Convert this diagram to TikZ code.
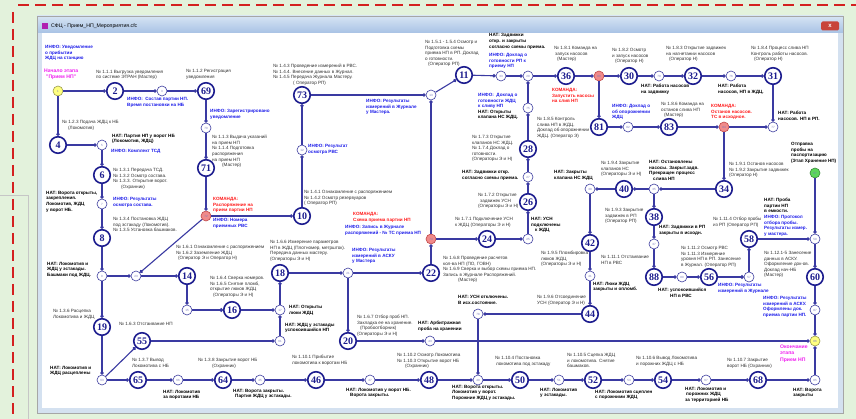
\documentclass[tikz,border=0pt]{standalone}
\usepackage{fontspec}
\setmainfont{Liberation Sans}
\newfontfamily\numfont{Liberation Serif}
\usetikzlibrary{arrows.meta}
\definecolor{nodeblue}{HTML}{1C1C8E}
\definecolor{edgeblue}{HTML}{3A3AA2}
\definecolor{infoblue}{HTML}{1E1EEA}
\definecolor{cmdred}{HTML}{FF1A1A}
\definecolor{stagemag}{HTML}{F020F0}
\definecolor{txtgray}{HTML}{303030}
\definecolor{redfill}{HTML}{F08A8A}
\definecolor{reddraw}{HTML}{C04848}
\definecolor{yelfill}{HTML}{FFFF80}
\definecolor{yeldraw}{HTML}{9A9A50}
\definecolor{grnfill}{HTML}{5CD65C}
\definecolor{grndraw}{HTML}{3A8A3A}
\definecolor{bggreen}{HTML}{E3F2DC}
\definecolor{dashred}{HTML}{D42020}
\definecolor{winframe}{HTML}{D4E1F0}
\definecolor{titletop}{HTML}{D6E4F4}
\definecolor{titlebot}{HTML}{A8C2E4}
\definecolor{closered}{HTML}{C8443A}
\definecolor{iconmag}{HTML}{B020B0}
\tikzset{
  big/.style={circle, draw=nodeblue, line width=1.6pt, fill=white, minimum size=16.5pt, inner sep=0pt, text=nodeblue, font=\numfont\bfseries\fontsize{10}{10}\selectfont},
  sm/.style={circle, draw=nodeblue!85, line width=0.6pt, fill=white, minimum size=10pt, inner sep=0pt, text=nodeblue!60, font=\fontsize{3}{3}\selectfont},
  smred/.style={sm, fill=redfill, draw=reddraw},
  smyel/.style={sm, fill=yelfill, draw=yeldraw},
  smgrn/.style={sm, fill=grnfill, draw=grndraw},
  conn/.style={draw=edgeblue, line width=1.1pt, -{Circle[length=3.4pt]}},
  thickconn/.style={conn, line width=2pt},
  lbl/.style={anchor=north west, inner sep=0pt, align=left, font=\fontsize{4.6}{5.6}\selectfont, text=txtgray},
  nat/.style={lbl, font=\bfseries\fontsize{4.6}{5.6}\selectfont, text=black},
  info/.style={lbl, font=\bfseries\fontsize{4.6}{5.6}\selectfont, text=infoblue},
  cmd/.style={lbl, font=\bfseries\fontsize{4.6}{5.6}\selectfont, text=cmdred},
  stage/.style={lbl, font=\bfseries\fontsize{5.1}{6.2}\selectfont, text=stagemag},
}
\begin{document}
\begin{tikzpicture}[x=1pt,y=-1pt]
\useasboundingbox (0,0) rectangle (856,419);
% background
\fill[bggreen] (0,0) rectangle (856,419);
\draw[gray!45, line width=0.8pt] (0,195) -- (28,195) -- (28,419);
\draw[dashred, line width=2.6pt, dash pattern=on 11pt off 6pt] (18,5) -- (856,5);
\draw[dashred, line width=2.6pt, dash pattern=on 11pt off 6pt] (13,12) -- (13,416);
% window
\fill[winframe] (37,16) rectangle (843,413);
\shade[top color=titletop, bottom color=titlebot] (37,16) rectangle (843,33);
\fill[white] (42,33) rectangle (838,408);
\draw[gray!70, line width=0.6pt] (37,16) rectangle (843,413);
\node[fill=closered, rounded corners=1.5pt, minimum width=18pt, minimum height=9pt, inner sep=0pt, text=white, font=\bfseries\fontsize{6}{6}\selectfont] (closebtn) at (830,26) {x};
\node[fill=iconmag, minimum size=6pt, inner sep=0pt] (icon) at (45,26) {};
\node[anchor=west, inner sep=0pt, font=\fontsize{5.2}{6}\selectfont] (title) at (51,26.5) {СФЦ - Прием\_НП\_Мероприятия.cfc};

% ---------- texts ----------
\node[info] (I1) at (45,45) {ИНФО: Уведомление\\о прибытии\\ЖДЦ на станцию};
\node[stage, align=center] (S1) at (44,69) {Начало этапа\\"Прием НП"};
\node[lbl] (L1) at (96,70) {№ 1.1.1 Выгрузка уведомления\\по системе ЭТРАН (Мастер)};
\node[lbl] (L2) at (186,69) {№ 1.1.2 Регистрация\\уведомления};
\node[info] (I2) at (127,97) {ИНФО:\ \ Состав партии НП.\\Время постановки на НБ};
\node[info] (I3) at (210,109) {ИНФО: Зарегистрировано\\уведомление};
\node[lbl] (L3) at (62,120) {№ 1.2.3 Подача ЖДЦ к НБ\\\hspace{6pt}(Локомотив)};
\node[nat] (N1) at (112,134) {НАТ: Партия НП у ворот НБ\\(Локомотив, ЖДЦ)};
\node[lbl] (L4) at (212,135) {№ 1.1.3 Выдача указаний\\на прием НП\\№ 1.1.4 Подготовка\\распоряжения\\на прием НП\\\hspace{10pt}(Мастер)};
\node[info] (I4) at (111,149) {ИНФО: Комплект ТСД};
\node[lbl] (L5) at (113,168) {№ 1.3.1 Передача ТСД.\\№ 1.3.2 Осмотр состава.\\№ 1.3.3. Открытие ворот.\\\hspace{8pt}(Охранник)};
\node[nat] (N2) at (46,191) {НАТ: Ворота открыты,\\закрепления.\\Локомотив, ЖДЦ\\у ворот НБ.};
\node[info] (I5) at (113,197) {ИНФО: Результаты\\осмотра состава.};
\node[lbl] (L6) at (113,217) {№ 1.3.4 Постановка ЖДЦ\\под эстакаду (Локомотив).\\№ 1.3.5 Установка башмаков.};
\node[cmd] (C1) at (213,197) {КОМАНДА:\\Распоряжение на\\прием партии НП};
\node[info] (I6) at (213,218) {ИНФО: Номера\\приемных РВС};
\node[lbl] (L7) at (176,245) {№ 1.6.1 Ознакомление с распоряжением\\№ 1.6.2 Заземление ЖДЦ\\\hspace{2pt}(Оператор Э и Оператор Н)};
\node[nat] (N3) at (47,262) {НАТ: Локомотив и\\ЖДЦ у эстакады.\\Башмаки под ЖДЦ.};
\node[lbl] (L8) at (273,64) {№ 1.4.3 Проведение измерений в РВС.\\№ 1.4.4. Внесение данных в Журнал.\\№ 1.4.5 Передача Журнала Мастеру.\\\hspace{20pt}( Оператор РП)};
\node[info] (I7) at (366,99) {ИНФО: Результаты\\измерений в Журнале\\у Мастера.};
\node[lbl] (L9) at (425,40) {№ 1.5.1 - 1.5.4 Осмотр и\\Подготовка схемы\\приема НП в РП. Доклад\\о готовности.\\\hspace{3pt}(Оператор РП)};
\node[info] (I8) at (308,144) {ИНФО: Результат\\осмотра РВС};
\node[lbl] (L10) at (304,190) {№ 1.4.1 Ознакомление с распоряжением\\№ 1.4.2 Осмотр резервуаров\\( Оператор РП)};
\node[cmd] (C2) at (353,212) {КОМАНДА:\\Схема приема партии НП};
\node[info] (I9) at (345,225) {ИНФО: Запись в Журнале\\распоряжений - № ТС приема НП};
\node[info] (I10) at (352,248) {ИНФО: Результаты\\измерений в АСКУ\\у Мастера};
\node[lbl] (L11) at (270,240) {№ 1.6.6 Измерение параметров\\НП в ЖДЦ (Плотномер, метршток).\\Передача данных мастеру.\\(Операторы Э и Н)};
\node[nat] (N4) at (489,33.5) {НАТ: Задвижки\\откр. и закрыты\\согласно схемы приема.};
\node[info] (I11) at (489,53) {ИНФО: Доклад о\\готовности РП к\\приему НП};
\node[lbl] (L12) at (554,46) {№ 1.8.1 Команда на\\\hspace{1pt}запуск насосов\\\hspace{3pt}(Мастер)};
\node[lbl] (L13) at (612,48) {№ 1.8.2 Осмотр\\и запуск насосов\\\hspace{3pt}(Оператор Н)};
\node[cmd] (C3) at (552,88) {КОМАНДА:\\Запустить насосы\\на слив НП};
\node[info] (I12) at (478,93) {ИНФО:\ \ Доклад о\\готовности ЖДЦ\\к сливу НП};
\node[nat] (N5) at (478,109.8) {НАТ: Открыты\\клапана НС ЖДЦ.};
\node[lbl] (L14) at (537,117) {№ 1.8.5 Контроль\\слива НП в ЖДЦ.\\Доклад об опорожнении\\ЖДЦ. (Оператор Э)};
\node[info] (I13) at (612,104) {ИНФО: Доклад о\\об опорожнении\\ЖДЦ};
\node[lbl] (L15) at (472,135) {№ 1.7.3 Открытие\\клапанов НС ЖДЦ.\\№ 1.7.4 Доклад о\\готовности.\\(Операторы Э и Н)};
\node[lbl] (L16) at (666,46) {№ 1.8.3 Открытие задвижек\\на нагнетании насосов\\\hspace{3pt}(Оператор Н)};
\node[lbl] (L17) at (751,46) {№ 1.8.4 Процесс слива НП\\Контроль работы насосов.\\\hspace{3pt}(Оператор Н)};
\node[nat] (N6) at (641,84) {НАТ: Работа насосов\\на задвижку};
\node[nat] (N7) at (718,84) {НАТ: Работа\\насосов, НП в ЖДЦ.};
\node[lbl] (L18) at (661,102) {№ 1.8.6 Команда на\\останов слива НП\\\hspace{3pt}(Мастер)};
\node[cmd] (C4) at (711,104) {КОМАНДА:\\Останов насосов.\\ТС в исходное.};
\node[nat] (N8) at (778,111) {НАТ: Работа\\насосов. НП в РП.};
\node[nat] (N9) at (791,142) {Отправка\\пробы на\\паспортизацию\\(Этап Хранение НП)};
\node[nat] (N10) at (649,160) {НАТ: Остановлены\\насосы. Закрыт.задв.\\Прекращен процесс\\\hspace{4pt}слива НП};
\node[lbl] (L19) at (729,162) {№ 1.9.1 Останов насосов\\№ 1.9.2 Закрытие задвижек\\(Оператор Н)};
\node[nat] (N11) at (554,170) {НАТ: Закрыты\\клапана НС ЖДЦ};
\node[lbl] (L20) at (601,161) {№ 1.9.4 Закрытие\\клапанов НС\\(Операторы Э и Н)};
\node[nat] (N12) at (462,170) {НАТ: Задвижки откр.\\согласно схемы приема.};
\node[lbl] (L21) at (478,193) {№ 1.7.2 Открытие\\\hspace{2pt}задвижек УСН\\(Операторы Э и Н)};
\node[lbl] (L22) at (455,217) {№ 1.7.1 Подключение УСН\\к ЖДЦ (Операторы Э и Н)};
\node[nat] (N13) at (531,217) {НАТ: УСН\\подключены\\\hspace{4pt}к ЖДЦ};
\node[lbl] (L23) at (605,208) {№ 1.9.3 Закрытие\\задвижек в РП\\(Оператор РП)};
\node[lbl] (L24) at (541,251) {№ 1.9.5 Пломбировка\\люков ЖДЦ\\(Операторы Э и Н)};
\node[lbl] (L25) at (601,255) {№ 1.11.1 Отстаивание\\НП в РВС};
\node[lbl] (L26) at (443,256) {№ 1.6.8 Проведение расчетов\\кол-ва НП (ПО, ГОВН)\\№ 1.6.9 Сверка и выбор схемы приема НП.\\Запись в Журнале Распоряжений.\\\hspace{15pt}(Мастер)};
\node[lbl] (L27) at (713,217) {№ 1.11.4 Отбор пробы\\из РП (Оператор РП)};
\node[nat] (N14) at (764,198) {НАТ: Проба\\партии НП\\в емкости.};
\node[info] (I14) at (764,215) {ИНФО: Протокол\\отбора пробы.\\Результаты измер.\\у мастера.};
\node[nat] (N15) at (659,225) {НАТ: Задвижки в РП\\закрыты в исходн.};
\node[lbl] (L28) at (681,246) {№ 1.11.2 Осмотр РВС\\№ 1.11.3 Измерение\\уровня НП в РП. Занесение\\в Журнал. (Оператор РП)};
\node[lbl] (L29) at (764,251) {№ 1.12.1-5 Занесение\\данных в АСКУ.\\Оформление док-ов.\\Доклад нач-НБ\\(Мастер)};
\node[nat] (N16) at (658,288) {НАТ: успокоившийся\\\hspace{12pt}НП в РВС};
\node[info] (I15) at (718,283) {ИНФО: Результаты\\измерений в Журнале};
\node[info] (I16) at (763,296) {ИНФО: Результаты\\измерений в АСКУ.\\Оформлены док.\\приема партии НП.};
\node[stage] (S2) at (780,345) {Окончание\\этапа\\Прием НП};
\node[lbl] (L30) at (636,356) {№ 1.10.6 Вывод Локомотива\\и порожних ЖДЦ с НБ};
\node[lbl] (L31) at (727,358) {№ 1.10.7 Закрытие\\ворот НБ (Охранник)};
\node[nat] (N17) at (685,387) {НАТ: Локомотив и\\\hspace{1pt}порожних ЖДЦ\\за территорией НБ};
\node[nat] (N18) at (793,388) {НАТ: Ворота\\закрыты};
\node[nat] (N19) at (595,390) {НАТ: Локомотив сцеплен\\с порожними ЖДЦ};
\node[lbl] (L32) at (567,353) {№ 1.10.5 Сцепка ЖДЦ\\и локомотива. Снятие\\башмаков.};
\node[lbl] (L33) at (495,356) {№ 1.10.4 Постановка\\\hspace{1pt}локомотива под эстакаду};
\node[nat] (N20) at (452,385) {НАТ: Ворота открыты.\\Локомотив у ворот.\\Порожние ЖДЦ у эстакады.};
\node[nat] (N21) at (540,388) {НАТ: Локомотив\\у эстакады.};
\node[nat] (N22) at (458,295) {НАТ: УСН отключены.\\В исх.состояние.};
\node[lbl] (L34) at (537,295) {№ 1.9.6 Отсоединение\\УСН (Оператор Э и Н)};
\node[nat] (N23) at (593,282) {НАТ: Люки ЖДЦ\\закрыты и опломб.};
\node[nat] (N24) at (418,321) {НАТ: Арбитражная\\проба на хранении};
\node[lbl] (L35) at (397,353) {№ 1.10.2 Осмотр Локомотива\\№ 1.10.3 Открытие ворот НБ\\\hspace{8pt}(Охранник)};
\node[nat] (N25) at (346,388) {НАТ: Локомотив у ворот НБ.\\\hspace{4pt}Ворота закрыты.};
\node[lbl] (L36) at (292,355) {№ 1.10.1 Прибытие\\локомотива к воротам НБ};
\node[nat] (N26) at (233,389) {НАТ: Ворота закрыты.\\\hspace{2pt}Партия ЖДЦ у эстакады.};
\node[lbl] (L37) at (357,315) {№ 1.6.7 Отбор проб НП.\\Закладка ее на хранение.\\\hspace{3pt}(Пробоотборник)\\(Операторы Э и Н)};
\node[nat] (N27) at (289,305) {НАТ: Открыты\\люки ЖДЦ};
\node[nat] (N28) at (285,323) {НАТ: ЖДЦ у эстакады\\успокоившийся НП};
\node[lbl] (L38) at (210,276) {№ 1.6.4 Сверка номеров.\\№ 1.6.5 Снятие пломб,\\открытие люков ЖДЦ\\\hspace{3pt}(Операторы Э и Н)};
\node[lbl] (L39) at (53,309) {№ 1.3.6 Расцепка\\Локомотива и ЖДЦ};
\node[lbl] (L40) at (119,322) {№ 1.6.3 Отстаивание НП};
\node[nat] (N29) at (50,366) {НАТ: Локомотив и\\ЖДЦ расцеплены};
\node[lbl] (L41) at (132,358) {№ 1.3.7 Вывод\\Локомотива с НБ};
\node[lbl] (L42) at (198,358) {№ 1.3.8 Закрытие ворот НБ\\\hspace{14pt}(Охранник)};
\node[nat] (N30) at (163,390) {НАТ: Локомотив\\за воротами НБ};

% ---------- graph nodes ----------
\node[big] (n2) at (115,91) {2};
\node[big] (n69) at (206,91) {69};
\node[big] (n4) at (58,145) {4};
\node[big] (n6) at (102,175) {6};
\node[big] (n71) at (206,168) {71};
\node[big] (n8) at (102,238) {8};
\node[big] (n10) at (302,216) {10};
\node[big] (n73) at (302,95) {73};
\node[big] (n11) at (464,75) {11};
\node[big] (n36) at (566,76) {36};
\node[big] (n30) at (629,76) {30};
\node[big] (n32) at (693,76) {32};
\node[big] (n31) at (773,76) {31};
\node[big] (n81) at (599,127) {81};
\node[big] (n83) at (669,127) {83};
\node[big] (n28) at (528,149) {28};
\node[big] (n26) at (528,202) {26};
\node[big] (n24) at (487,239) {24};
\node[big] (n40) at (624,189) {40};
\node[big] (n34) at (724,189) {34};
\node[big] (n38) at (654,217) {38};
\node[big] (n42) at (590,243) {42};
\node[big] (n58) at (749,239) {58};
\node[big] (n88) at (654,277) {88};
\node[big] (n56) at (709,277) {56};
\node[big] (n60) at (815,277) {60};
\node[big] (n14) at (187,276) {14};
\node[big] (n16) at (232,310) {16};
\node[big] (n18) at (280,273) {18};
\node[big] (n22) at (431,273) {22};
\node[big] (n19) at (102,327) {19};
\node[big] (n55) at (142,341) {55};
\node[big] (n20) at (348,341) {20};
\node[big] (n44) at (590,314) {44};
\node[big] (n65) at (138,380) {65};
\node[big] (n64) at (223,380) {64};
\node[big] (n46) at (316,380) {46};
\node[big] (n48) at (429,380) {48};
\node[big] (n50) at (520,380) {50};
\node[big] (n52) at (593,380) {52};
\node[big] (n54) at (663,380) {54};
\node[big] (n68) at (758,380) {68};

\node[smyel] (s1) at (58,91) {1};
\node[sm] (s3) at (162,91) {3};
\node[sm] (s70) at (206,128) {70};
\node[smred] (s72) at (206,216) {72};
\node[sm] (s5) at (102,145) {5};
\node[sm] (s7) at (102,204) {7};
\node[sm] (s9) at (102,276) {9};
\node[sm] (s23) at (136,276) {23};
\node[sm] (s12) at (302,150) {12};
\node[sm] (s13) at (431,95) {13};
\node[smred] (s74) at (431,239) {74};
\node[sm] (s33) at (501,76) {33};
\node[sm] (s29) at (528,76) {29};
\node[sm] (s75) at (528,108) {75};
\node[smred] (s80) at (599,76) {80};
\node[sm] (s79) at (659,76) {79};
\node[sm] (s76) at (731,76) {76};
\node[sm] (s82) at (628,127) {82};
\node[smred] (s84) at (724,127) {84};
\node[sm] (s77) at (773,127) {77};
\node[sm] (s27) at (528,177) {27};
\node[sm] (s25) at (528,239) {25};
\node[sm] (s39) at (590,189) {39};
\node[sm] (s35) at (654,189) {35};
\node[sm] (s37) at (654,244) {37};
\node[sm] (s41) at (590,276) {41};
\node[smgrn] (s67g) at (815,173) {67};
\node[sm] (s59) at (815,239) {59};
\node[sm] (s89) at (682,277) {89};
\node[sm] (s57) at (749,277) {57};
\node[sm] (s87) at (815,310) {87};
\node[smyel] (s86) at (815,341) {86};
\node[sm] (s85) at (815,380) {85};
\node[sm] (s15) at (187,310) {15};
\node[sm] (s17) at (280,310) {17};
\node[sm] (s61) at (280,341) {61};
\node[sm] (s21) at (348,273) {21};
\node[sm] (s43) at (430,341) {43};
\node[sm] (s78) at (478,314) {78};
\node[sm] (s63) at (102,380) {63};
\node[sm] (s66) at (178,380) {66};
\node[sm] (s45) at (260,380) {45};
\node[sm] (s47) at (370,380) {47};
\node[sm] (s49) at (478,380) {49};
\node[sm] (s51) at (559,380) {51};
\node[sm] (s53) at (629,380) {53};
\node[sm] (s67) at (706,380) {67};

% ---------- connectors ----------
\draw[conn] (s1) -- (n2);
\draw[conn] (n2) -- (s3);
\draw[conn] (s3) -- (n69);
\draw[conn] (n69) -- (s70);
\draw[conn] (s70) -- (n71);
\draw[conn] (n71) -- (s72);
\draw[conn] (s72) -- (n10);
\draw[conn] (s72) -- (s23);
\draw[conn] (s1) -- (n4);
\draw[conn] (n4) -- (s5);
\draw[conn] (s5) -- (n6);
\draw[conn] (n6) -- (s7);
\draw[conn] (s7) -- (n8);
\draw[conn] (n8) -- (s9);
\draw[conn] (s9) -- (s23);
\draw[conn] (s23) -- (n14);
\draw[conn] (s9) -- (n19);
\draw[conn] (n19) -- (s63);
\draw[conn] (s63) -- (n55);
\draw[conn] (s63) -- (n65);
\draw[conn] (n65) -- (s66);
\draw[conn] (s66) -- (n64);
\draw[conn] (n64) -- (s45);
\draw[conn] (s45) -- (n46);
\draw[conn] (n46) -- (s47);
\draw[conn] (s47) -- (n48);
\draw[conn] (n48) -- (s49);
\draw[conn] (s78) -- (s49);
\draw[conn] (n44) -- (s78);
\draw[conn] (s49) -- (n50);
\draw[conn] (n50) -- (s51);
\draw[conn] (s51) -- (n52);
\draw[conn] (n52) -- (s53);
\draw[conn] (s53) -- (n54);
\draw[conn] (n54) -- (s67);
\draw[conn] (s67) -- (n68);
\draw[conn] (n68) -- (s85);
\draw[conn] (s85) -- (s86);
\draw[conn] (n60) -- (s87);
\draw[conn] (s87) -- (s86);
\draw[conn] (n14) -- (s15);
\draw[thickconn] (s15) -- (n16);
\draw[conn] (n16) -- (s17);
\draw[conn] (s17) -- (n18);
\draw[conn] (n55) -- (s61);
\draw[conn] (s61) -- (s17);
\draw[conn] (n18) -- (s21);
\draw[conn] (s21) -- (n22);
\draw[conn] (s21) -- (n20);
\draw[conn] (n20) -- (s43);
\draw[conn] (s43) -- (s86);
\draw[conn] (n10) -- (s12);
\draw[conn] (s12) -- (n73);
\draw[conn] (n73) -- (s13);
\draw[conn] (s13) -- (n11);
\draw[conn] (s74) -- (s13);
\draw[conn] (n22) -- (s74);
\draw[conn] (s74) -- (n24);
\draw[conn] (n24) -- (s25);
\draw[conn] (s25) -- (n26);
\draw[conn] (n26) -- (s27);
\draw[conn] (s27) -- (n28);
\draw[conn] (n28) -- (s75);
\draw[conn] (s75) -- (s29);
\draw[conn] (n11) -- (s33);
\draw[conn] (s33) -- (s29);
\draw[conn] (s29) -- (n36);
\draw[conn] (n36) -- (s80);
\draw[conn] (s80) -- (n30);
\draw[conn] (s80) -- (n81);
\draw[conn] (n81) -- (s82);
\draw[conn] (s82) -- (n83);
\draw[conn] (n83) -- (s84);
\draw[conn] (s84) -- (s77);
\draw[conn] (n31) -- (s77);
\draw[conn] (n30) -- (s79);
\draw[conn] (s79) -- (n32);
\draw[conn] (n32) -- (s76);
\draw[conn] (s76) -- (n31);
\draw[conn] (s84) -- (n34);
\draw[conn] (n34) -- (s35);
\draw[conn] (s35) -- (n40);
\draw[conn] (n40) -- (s39);
\draw[conn] (s39) -- (n42);
\draw[conn] (n42) -- (s41);
\draw[conn] (s41) -- (n44);
\draw[conn] (s35) -- (n38);
\draw[conn] (n38) -- (s37);
\draw[conn] (s37) -- (n88);
\draw[conn] (n88) -- (s89);
\draw[conn] (s89) -- (n56);
\draw[thickconn] (n56) -- (s57);
\draw[conn] (s57) -- (n58);
\draw[conn] (n58) -- (s59);
\draw[conn] (s67g) -- (s59);
\draw[conn] (s59) -- (n60);
\end{tikzpicture}
\end{document}
